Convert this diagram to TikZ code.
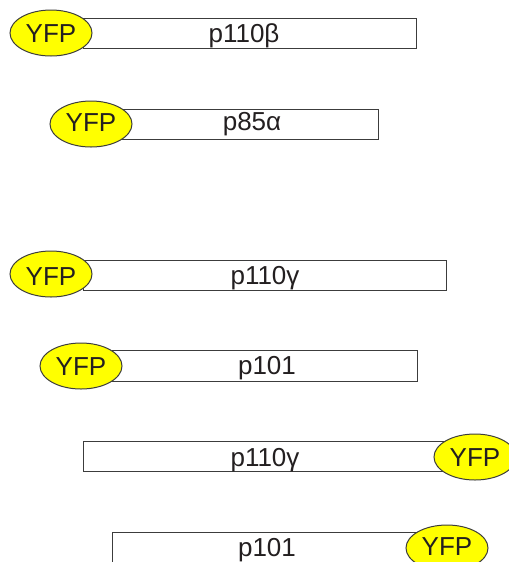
\documentclass[tikz,border=0pt]{standalone}
\usepackage{fontspec}
\setmainfont{Liberation Sans}
\definecolor{yfpyellow}{RGB}{255,255,0}
\definecolor{boxline}{RGB}{60,60,60}
\definecolor{inktext}{RGB}{35,31,32}

\tikzset{every picture/.style={line width=0.75pt}}
\tikzset{lbl/.style={anchor=base, inner sep=0pt, text=inktext, font=\fontsize{19.5}{23}\selectfont}}

\begin{document}
\begin{tikzpicture}[x=0.75pt,y=0.75pt,yscale=-1,xscale=1]
%set diagram left start at 0, and has height of 562
\path[use as bounding box] (0,0) rectangle (509,562);
\clip (0,0) rectangle (509,562);

%Shape: Rectangle [id:p110beta box]
\draw  [color=boxline ,draw opacity=1 ][fill=white] (83,18) -- (416,18) -- (416,48) -- (83,48) -- cycle ;
%Shape: Ellipse [id:p110beta yfp]
\draw  [color=boxline ][fill=yfpyellow] (10,33) .. controls (10,20.3) and (28.4,10) .. (51,10) .. controls (73.6,10) and (92,20.3) .. (92,33) .. controls (92,45.7) and (73.6,56) .. (51,56) .. controls (28.4,56) and (10,45.7) .. (10,33) -- cycle ;

%Shape: Rectangle [id:p85alpha box]
\draw  [color=boxline ,draw opacity=1 ][fill=white] (120,109) -- (378,109) -- (378,139) -- (120,139) -- cycle ;
%Shape: Ellipse [id:p85alpha yfp]
\draw  [color=boxline ][fill=yfpyellow] (50,124) .. controls (50,111.3) and (68.4,101) .. (91,101) .. controls (113.6,101) and (132,111.3) .. (132,124) .. controls (132,136.7) and (113.6,147) .. (91,147) .. controls (68.4,147) and (50,136.7) .. (50,124) -- cycle ;

%Shape: Rectangle [id:p110gamma box]
\draw  [color=boxline ,draw opacity=1 ][fill=white] (83,260) -- (446,260) -- (446,290) -- (83,290) -- cycle ;
%Shape: Ellipse [id:p110gamma yfp]
\draw  [color=boxline ][fill=yfpyellow] (10,274) .. controls (10,261.3) and (28.4,251) .. (51,251) .. controls (73.6,251) and (92,261.3) .. (92,274) .. controls (92,286.7) and (73.6,297) .. (51,297) .. controls (28.4,297) and (10,286.7) .. (10,274) -- cycle ;

%Shape: Rectangle [id:p101 box]
\draw  [color=boxline ,draw opacity=1 ][fill=white] (112,350) -- (417,350) -- (417,381) -- (112,381) -- cycle ;
%Shape: Ellipse [id:p101 yfp]
\draw  [color=boxline ][fill=yfpyellow] (40,366) .. controls (40,353.3) and (58.4,343) .. (81,343) .. controls (103.6,343) and (122,353.3) .. (122,366) .. controls (122,378.7) and (103.6,389) .. (81,389) .. controls (58.4,389) and (40,378.7) .. (40,366) -- cycle ;

%Shape: Rectangle [id:p110gamma C box]
\draw  [color=boxline ,draw opacity=1 ][fill=white] (83,441) -- (446,441) -- (446,471) -- (83,471) -- cycle ;
%Shape: Ellipse [id:p110gamma C yfp]
\draw  [color=boxline ][fill=yfpyellow] (434,457) .. controls (434,444.3) and (452.4,434) .. (475,434) .. controls (497.6,434) and (516,444.3) .. (516,457) .. controls (516,469.7) and (497.6,480) .. (475,480) .. controls (452.4,480) and (434,469.7) .. (434,457) -- cycle ;

%Shape: Rectangle [id:p101 C box]
\draw  [color=boxline ,draw opacity=1 ][fill=white] (112,532) -- (417,532) -- (417,563) -- (112,563) -- cycle ;
%Shape: Ellipse [id:p101 C yfp]
\draw  [color=boxline ][fill=yfpyellow] (406,548) .. controls (406,535.3) and (424.4,525) .. (447,525) .. controls (469.6,525) and (488,535.3) .. (488,548) .. controls (488,560.7) and (469.6,571) .. (447,571) .. controls (424.4,571) and (406,560.7) .. (406,548) -- cycle ;

% Text Node
\draw (51,42.7) node (yfpA) [lbl] {YFP};
% Text Node
\draw (244,42.5) node (p110b) [lbl] {p110β};
% Text Node
\draw (91,131.5) node (yfpB) [lbl] {YFP};
% Text Node
\draw (252,130.5) node (p85a) [lbl] {p85α};
% Text Node
\draw (51,285) node (yfpC) [lbl] {YFP};
% Text Node
\draw (265,284) node (p110g) [lbl] {p110γ};
% Text Node
\draw (81,375) node (yfpD) [lbl] {YFP};
% Text Node
\draw (267,374) node (p101) [lbl] {p101};
% Text Node
\draw (475,466.7) node (yfpE) [lbl] {YFP};
% Text Node
\draw (265,466.7) node (p110gC) [lbl] {p110γ};
% Text Node
\draw (447,555.5) node (yfpF) [lbl] {YFP};
% Text Node
\draw (267,556) node (p101C) [lbl] {p101};

\end{tikzpicture}
\end{document}
